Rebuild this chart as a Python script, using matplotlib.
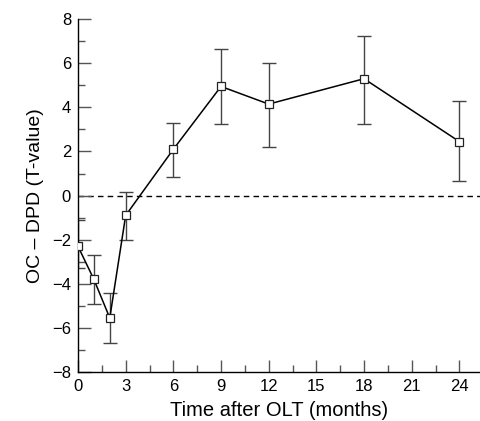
import matplotlib
matplotlib.use("Agg")
import matplotlib.pyplot as plt
from matplotlib.ticker import MultipleLocator

months = [0, 1, 2, 3, 6, 9, 12, 18, 24]
t_mean = [-2.3, -3.8, -5.55, -0.9, 2.1, 4.95, 4.15, 5.3, 2.45]
t_upper = [-1.1, -2.7, -4.4, 0.15, 3.3, 6.65, 6.0, 7.25, 4.3]
t_lower = [-3.3, -4.9, -6.7, -2.0, 0.85, 3.25, 2.2, 3.25, 0.65]

x_ticks = [0, 3, 6, 9, 12, 15, 18, 21, 24]
y_ticks = [-8, -6, -4, -2, 0, 2, 4, 6, 8]

plt.rcParams['font.family'] = ['Liberation Sans', 'DejaVu Sans']

fig = plt.figure(figsize=(4.8, 4.21), dpi=100)
ax = fig.add_axes([0.1625, 0.1164, 0.8375, 0.838])

yerr = [[m - l for m, l in zip(t_mean, t_lower)],
        [u - m for m, u in zip(t_mean, t_upper)]]
ax.errorbar(months, t_mean, yerr=yerr, fmt='none', ecolor='#444444',
            elinewidth=1.0, capsize=5, capthick=1.0, zorder=2)
ax.plot(months, t_mean, color='black', lw=1.1, marker='s', ms=5.5,
        mfc='white', mec='#222222', mew=0.9, zorder=3)
ax.axhline(0, color='black', lw=1.0, ls=(0, (4, 3)), zorder=1)

ax.set_xlim(0, 25.3)
ax.set_ylim(-8, 8)
ax.set_xticks(x_ticks)
ax.set_yticks(y_ticks)
ax.xaxis.set_minor_locator(MultipleLocator(1.5))
ax.yaxis.set_minor_locator(MultipleLocator(1))
ax.tick_params(which='major', direction='in', length=9, width=1, color='#555555',
               labelsize=12, pad=5)
ax.tick_params(which='minor', direction='in', length=5, width=1, color='#555555')
ax.spines['top'].set_visible(False)
ax.spines['right'].set_visible(False)
for s in ['left', 'bottom']:
    ax.spines[s].set_linewidth(1.0)

ax.set_xlabel('Time after OLT (months)', fontsize=14.5, labelpad=5)
ax.set_ylabel('OC – DPD (T-value)', fontsize=14, labelpad=6)

fig.savefig('out.png', dpi=100)
